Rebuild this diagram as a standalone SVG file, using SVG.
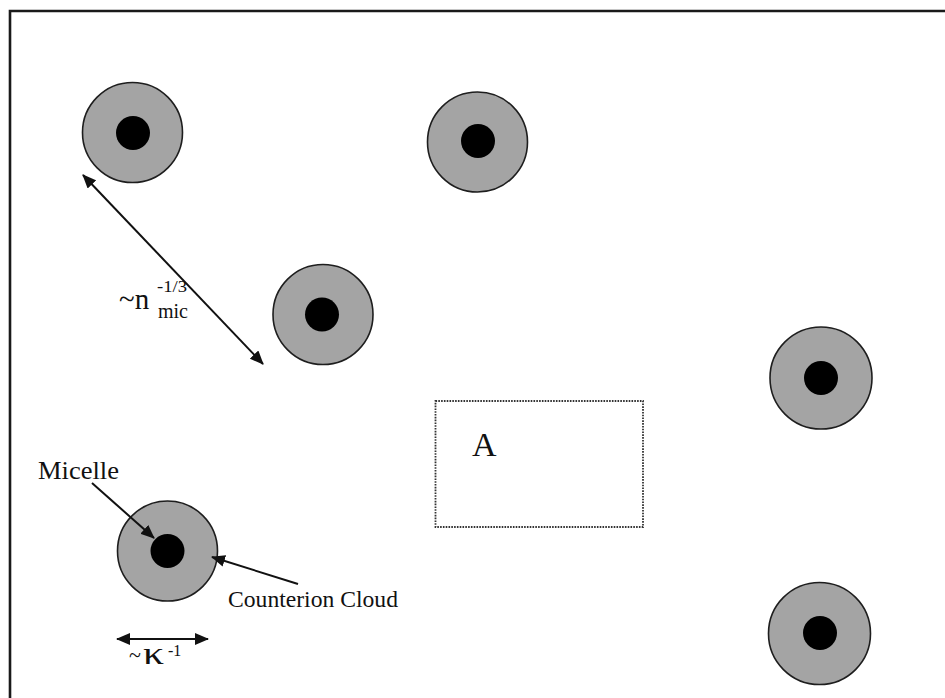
<svg xmlns="http://www.w3.org/2000/svg" width="945" height="698" viewBox="0 0 945 698">
  <style>
    .cloud { fill: #a4a4a4; stroke: #1e1e1e; stroke-width: 1.6; }
    .core { fill: #000; }
    .lbl { font-family: "Liberation Serif", "Times New Roman", serif; fill: #111; }
    .conn { stroke: #111; stroke-width: 2; fill: none; }
    .frame { stroke: #1a1a1a; stroke-width: 2.6; fill: none; }
    .region { stroke: #333; stroke-width: 1.8; stroke-dasharray: 1.6 1.2; fill: none; }
  </style>
  <defs>
    <marker id="tip" viewBox="0 0 14 12" refX="13" refY="6" markerWidth="14" markerHeight="12" markerUnits="userSpaceOnUse" orient="auto-start-reverse">
      <path d="M0,0 L14,6 L0,12 z" fill="#111"/>
    </marker>
  </defs>

  <rect width="945" height="698" fill="#fff"/>
  <!-- outer frame (open at right and bottom) -->
  <path class="frame" d="M10,698 V11 H945"/>

  <!-- micelles with counterion clouds -->
  <g id="micelle1"><circle class="cloud" cx="132.5" cy="132.5" r="50"/><circle class="core" cx="133" cy="133" r="17"/></g>
  <g id="micelle2"><circle class="cloud" cx="477.5" cy="142" r="50"/><circle class="core" cx="478" cy="141" r="17"/></g>
  <g id="micelle3"><circle class="cloud" cx="323" cy="314.5" r="50"/><circle class="core" cx="322" cy="314.5" r="17"/></g>
  <g id="micelle4"><circle class="cloud" cx="821" cy="378" r="51"/><circle class="core" cx="821" cy="378" r="17"/></g>
  <g id="micelle5"><circle class="cloud" cx="167.5" cy="551" r="50"/><circle class="core" cx="167.5" cy="551" r="17"/></g>
  <g id="micelle6"><circle class="cloud" cx="819.5" cy="633.5" r="51"/><circle class="core" cx="820" cy="633" r="17"/></g>

  <!-- sample region A -->
  <g id="regionA">
    <rect class="region" x="435.5" y="401" width="207.5" height="126"/>
    <text class="lbl" x="472" y="456" font-size="34">A</text>
  </g>

  <!-- connectors -->
  <g id="connectors">
    <line class="conn" x1="83" y1="175" x2="263" y2="364" marker-start="url(#tip)" marker-end="url(#tip)"/>
    <line class="conn" x1="117" y1="639" x2="208" y2="639" marker-start="url(#tip)" marker-end="url(#tip)"/>
    <line class="conn" x1="92" y1="483" x2="154" y2="538" stroke-width="1.6" marker-end="url(#tip)"/>
    <line class="conn" x1="298" y1="584" x2="212" y2="557" stroke-width="1.6" marker-end="url(#tip)"/>
  </g>

  <!-- labels -->
  <g id="labels">
    <text class="lbl" x="119" y="309" font-size="29">~n</text>
    <text class="lbl" x="157" y="292" font-size="16" textLength="30" lengthAdjust="spacingAndGlyphs">-1/3</text>
    <text class="lbl" x="158" y="318" font-size="22" textLength="30" lengthAdjust="spacingAndGlyphs">mic</text>
    <text class="lbl" x="38" y="479" font-size="25" textLength="81" lengthAdjust="spacingAndGlyphs">Micelle</text>
    <text class="lbl" x="228" y="607" font-size="24" textLength="170" lengthAdjust="spacingAndGlyphs">Counterion Cloud</text>
    <text class="lbl" x="129" y="662" font-size="22">~</text>
    <text class="lbl" x="143" y="664" font-size="31" textLength="21" lengthAdjust="spacingAndGlyphs">κ</text>
    <text class="lbl" x="168" y="656" font-size="16">-1</text>
  </g>
</svg>
